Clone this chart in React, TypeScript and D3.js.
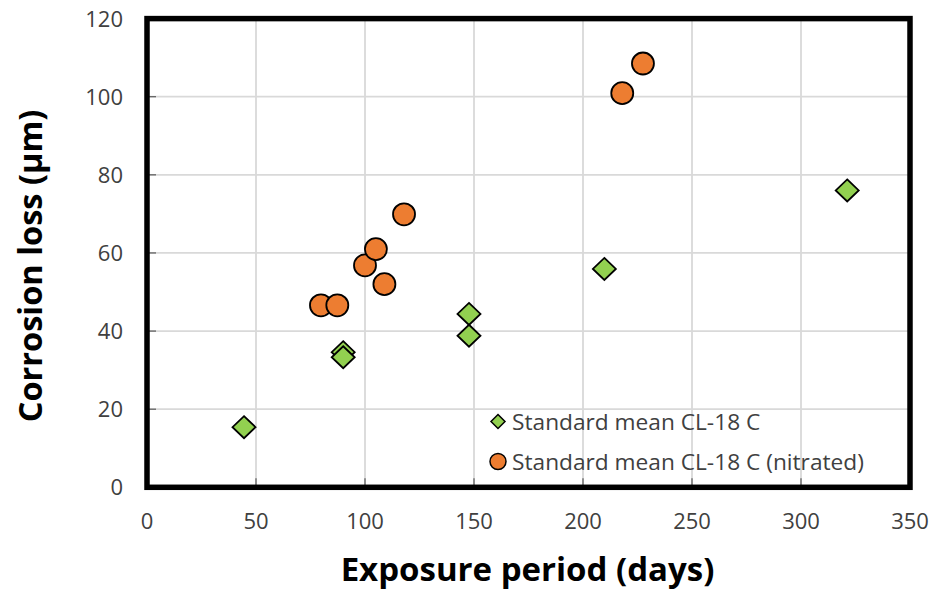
import React from "react";
import * as d3 from "d3";

const xTicks = [0, 50, 100, 150, 200, 250, 300, 350];
const yTicks = [0, 20, 40, 60, 80, 100, 120];

const standardDays = [44.5, 90, 90, 147.7, 147.7, 209.8, 321.2];
const standardLoss = [15.4, 34.6, 33.3, 44.4, 38.8, 55.9, 76.0];

const nitratedDays = [79.8, 87.3, 100, 105, 108.9, 117.9, 218, 227.5];
const nitratedLoss = [46.6, 46.6, 56.8, 61.0, 52.0, 69.9, 100.9, 108.5];

const seriesNames = ["Standard mean CL-18 C", "Standard mean CL-18 C (nitrated)"];
const xTitle = "Exposure period (days)";
const yTitle = "Corrosion loss (µm)";

const W = 931;
const H = 592;
const L = 147, R = 910, T = 18.6, B = 487.3;

const FONT = "'Open Sans', 'Noto Sans', sans-serif";

export default function App() {
  const x = d3.scaleLinear().domain([0, 350]).range([L, R]);
  const y = d3.scaleLinear().domain([0, 120]).range([B, T]);
  const diamond = (s: number, h: number) => `M0,${-h} L${s},0 L0,${h} L${-s},0 Z`;

  return (
    <svg width={W} height={H} style={{ position: "absolute", left: 0, top: 0, background: "#fff" }}>
      <rect x={0} y={0} width={W} height={H} fill="#fff" />
      {/* gridlines */}
      {xTicks.map((t) => (
        <line key={"gx" + t} x1={x(t)} x2={x(t)} y1={T} y2={B} stroke="#d9d9d9" strokeWidth={1.8} />
      ))}
      {yTicks.map((t) => (
        <line key={"gy" + t} x1={L} x2={R} y1={y(t)} y2={y(t)} stroke="#d9d9d9" strokeWidth={1.8} />
      ))}
      {/* ticks */}
      {yTicks.map((t) => (
        <line key={"ty" + t} x1={L} x2={L + 9} y1={y(t)} y2={y(t)} stroke="#595959" strokeWidth={1.2} />
      ))}
      {xTicks.map((t) => (
        <line key={"tx" + t} x1={x(t)} x2={x(t)} y1={B} y2={B - 9} stroke="#595959" strokeWidth={1.2} />
      ))}
      {/* tick labels */}
      {yTicks.map((t) => (
        <text key={"ly" + t} x={123} y={y(t)} dy="0.36em" textAnchor="end" fontFamily={FONT} fontSize={22} fill="#404040">
          {t}
        </text>
      ))}
      {xTicks.map((t) => (
        <text key={"lx" + t} x={x(t)} y={521} dy="0.36em" textAnchor="middle" fontFamily={FONT} fontSize={22} fill="#404040">
          {t}
        </text>
      ))}
      {/* standard series */}
      {standardDays.map((d, i) => (
        <path key={"s" + i} d={diamond(11.5, 11)} transform={`translate(${x(d)},${y(standardLoss[i])})`} fill="#92d050" stroke="#000" strokeWidth={1.8} />
      ))}
      {/* nitrated series */}
      {nitratedDays.map((d, i) => (
        <circle key={"n" + i} cx={x(d)} cy={y(nitratedLoss[i])} r={11} fill="#ed7d31" stroke="#000" strokeWidth={1.8} />
      ))}
      {/* frame */}
      <rect x={L} y={T} width={R - L} height={B - T} fill="none" stroke="#000" strokeWidth={5.5} />
      {/* legend */}
      <path d={diamond(7, 7)} transform="translate(498,421.5)" fill="#92d050" stroke="#000" strokeWidth={1.5} />
      <text x={512} y={421.5} dy="0.36em" fontFamily={FONT} fontSize={22.7} fill="#404040">{seriesNames[0]}</text>
      <circle cx={498} cy={461.5} r={8} fill="#ed7d31" stroke="#000" strokeWidth={1.5} />
      <text x={512} y={461.5} dy="0.36em" fontFamily={FONT} fontSize={22.7} fill="#404040">{seriesNames[1]}</text>
      {/* axis titles */}
      <text x={527.5} y={581} textAnchor="middle" fontFamily={FONT} fontSize={33} fontWeight="bold" fill="#000">
        {xTitle}
      </text>
      <text transform={`translate(42,266) rotate(-90)`} textAnchor="middle" fontFamily={FONT} fontSize={32.5} fontWeight="bold" fill="#000">
        {yTitle}
      </text>
    </svg>
  );
}
